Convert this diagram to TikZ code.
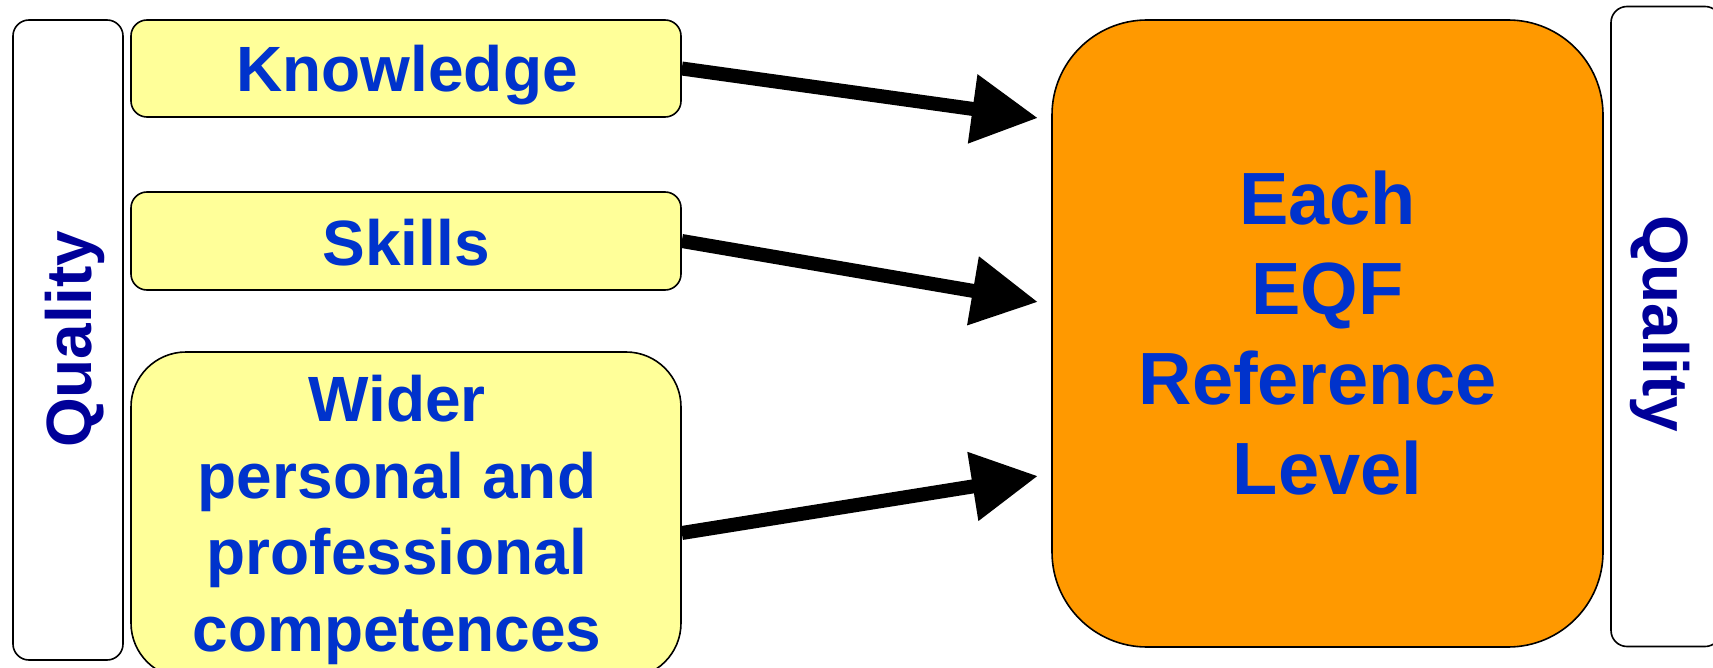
\documentclass[tikz,border=0pt]{standalone}
\usepackage{fontspec}
\setmainfont{Liberation Sans}
\usetikzlibrary{arrows.meta}
\definecolor{boxyellow}{RGB}{255,255,153}
\definecolor{boxorange}{RGB}{255,153,0}
\definecolor{txtblue}{RGB}{0,51,204}
\definecolor{qblue}{RGB}{0,0,153}
\tikzset{
  qbox/.style={draw=black, line width=0.8pt, fill=white, rounded corners=8pt, inner sep=0pt, minimum width=55pt},
  ybox/.style={draw=black, line width=0.8pt, fill=boxyellow, rounded corners=8pt, inner sep=0pt, minimum width=275pt},
  obox/.style={draw=black, line width=0.8pt, fill=boxorange, rounded corners=47.5pt, inner sep=0pt},
  ytext/.style={text=txtblue, font=\fontsize{32}{38.35}\selectfont\bfseries, inner sep=0pt, align=center},
  otext/.style={text=txtblue, font=\fontsize{37}{45}\selectfont\bfseries, inner sep=0pt, align=center},
  qtext/.style={text=qblue, font=\fontsize{32}{38}\selectfont\bfseries, inner sep=0pt},
  arr/.style={line width=7pt, -{Triangle[length=33pt,width=33pt]}}
}
\begin{document}
\begin{tikzpicture}[x=0.5pt,y=-0.5pt]
\useasboundingbox (0,0) rectangle (1713,668);
\clip (0,0) rectangle (1713,668);
% boxes
\node[qbox, minimum height=320pt] (leftq) at (68,340) {};
\node[qbox, minimum height=320pt] (rightq) at (1666,326.5) {};
\node[ybox, minimum height=48.5pt] (know) at (406,68.5) {};
\node[ybox, minimum height=49pt] (skills) at (406,241) {};
\node[ybox, rounded corners=27.5pt, minimum height=163pt] (wider) at (406,515) {};
\node[obox, minimum width=275.5pt, minimum height=313.5pt] (eqf) at (1327.5,333.5) {};
% texts
\node[ytext, anchor=base] (knowt) at (407,92) {Knowledge};
\node[ytext, anchor=base] (skillst) at (406,265) {Skills};
\node[ytext] (widert) at (397,520) {Wider\\personal and\\professional\\competences};
\node[otext] (eqft) at (1327.5,333.5) {Each\\EQF\\Reference\rule{10pt}{0pt}\\Level};
\node[qtext, rotate=90, anchor=base] (leftqt) at (91,339.5) {Quality};
\node[qtext, rotate=-90, anchor=base] (rightqt) at (1643,323.5) {Quality};
% arrows
\coordinate (t1) at (1038,118);
\coordinate (t2) at (1038,302);
\coordinate (t3) at (1038,476);
\draw[arr] (know.east) -- (t1);
\draw[arr] (skills.east) -- (t2);
\draw[arr] ([yshift=-9pt]wider.east) -- (t3);
\end{tikzpicture}
\end{document}
